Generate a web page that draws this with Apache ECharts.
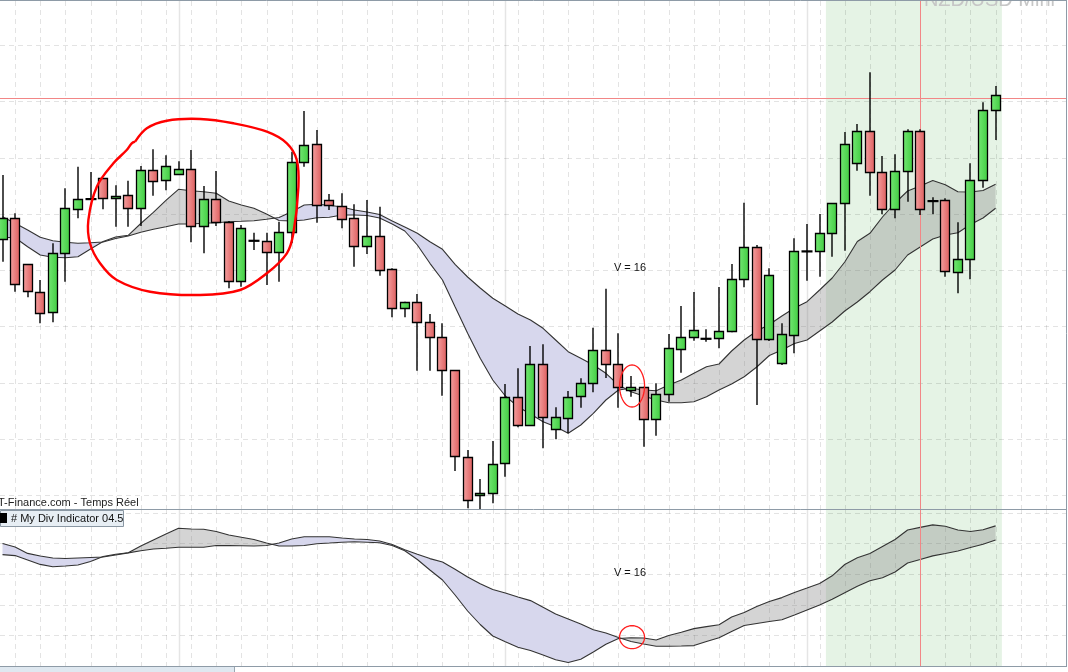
<!DOCTYPE html>
<html><head><meta charset="utf-8">
<script src="https://cdn.jsdelivr.net/npm/echarts@6/dist/echarts.min.js"></script>
<style>html,body{margin:0;padding:0;background:#fff;overflow:hidden}#c{width:1068px;height:672px}</style>
</head><body><div id="c"></div>
<script>
// ---- candle data (price points) ----
const opens = [270,290.7,244.7,217.3,196.7,255.7,299.7,310,330.7,310.7,
313.7,300.7,338.7,328.7,335,339.7,283,309.7,287,227.7,
268.3,268,256.7,276.7,346.7,364.7,308.7,303.3,290.7,262.7,
272.7,239.7,201.7,207.3,186.7,171.7,138.7,52.3,13.3,15.7,
45.7,111.7,83.7,144.7,79.7,91.7,113,125.7,158.7,144.7,
119.7,122.3,89.7,114.7,159.7,171.7,170.3,170.7,177.7,230,
261.7,169.7,145.7,173.7,257.7,257.7,275.7,305.7,345.7,377.7,
336.7,299.7,337.7,377.7,308,308.7,236.7,249.7,328.7,398.7];
const closes = [290.7,225,217.3,196.7,255.7,300.7,309.7,310,310.7,312.7,
300.7,338.7,328,342.7,339.7,283,309.7,287,227.7,281,
268.3,256.7,276.7,346.7,363.7,304,304,290.7,262.7,272.7,
238.7,200.7,207.3,187.7,171.7,138.7,52.3,9.7,15.7,44.7,
111.7,83.7,144.7,91.7,91.7,112.3,125.7,158.7,144.7,121.3,
122.3,90.7,114.7,160.7,171.7,178.7,170.3,177.7,230,261.7,
169.7,233.7,174.7,257.7,257.7,275.7,305.7,364.7,377.7,336.7,
299.7,337.7,377.7,299.7,308,237.7,249.7,328.7,398.7,413.7];
const lows = [247.3,217.3,211.7,185.7,186.7,227.3,290.7,309,299.7,282.3,
282.3,283,313.3,318.7,335,266.7,255.7,283,220.7,222.3,
259,224,227.3,265.7,342.3,286.3,299,280.7,242.3,255,
233.3,191.7,191.7,138.3,138.3,113.3,38,0.7,0,5.7,
32.3,81.7,83.7,60.7,69.7,75.7,101.3,116.7,131,101.3,
112.3,62.3,73.3,107.3,136.3,168.3,167.3,160.7,176.7,221.7,
104,168,144,155.7,228.3,232.3,252.3,258.3,338.3,313.3,
294.7,290.7,307.3,294,294.7,232.3,215.7,229.7,321.3,369];
const highs = [334,295.7,245,229,265.7,320.7,342.3,337,331,323.7,
328.3,343,359.7,353.7,347.7,359,323,338,288,284,
276.3,276.3,287.3,357.3,398,379,315,315.7,304.7,309,
302.3,240.7,207.3,215,195,185.7,138.7,59,30,68,
125,140.7,163,164.7,101.7,118,130.7,181.3,220.3,175.7,
133,122.3,125.7,175,203,217,179.7,222,245,306.3,
264,240.7,185.7,270.7,285,295,305.7,377,385,436.7,
353,354.7,379.7,379.7,311.7,310.7,286.7,345.7,406.7,423];

// ---- moving-average band (upper pane) ----
const fastMA = [271.7,271.3,262.3,254,251.7,251.3,252.3,260,267.5,272,
273.7,285.5,296.7,308.7,319.7,318.3,317.3,315.7,308,304,
300.7,295,288.5,288,289,291.3,291.7,294,294,293.5,
291,285,278,264,245.7,229,202.3,175.7,150.7,129,
113,102.3,95,87.3,82.3,75.7,84,95.7,109,119,
120.7,119,118.3,124,129,135.7,142.3,145,158,169,
178,184.5,193,201,207.3,219,231,247,267.5,275.7,
292,306,318,323,328.5,324.3,317.3,317,318.5,324.7];
const slowMA = [292.3,285.7,279,271.7,268.3,266.7,265.7,266.3,267,270.5,
273,276.7,279.7,282.3,285,285,285.7,286.3,287.3,287.7,
288.3,289.7,291.5,297.3,304,304.7,303.7,302,299,297,
294.5,288,282,275.7,267.3,259.7,244.7,232,221,210.7,
203,195,189,180.7,169,157.3,150.7,144,135.7,124,
117.3,113,109,106.3,106.3,107.3,112.3,119,125,132.3,
142,153.5,159,165.5,169,178,187,198,207,217.3,
229,239,254,262,270,274,276.3,284.5,291,300.7];

// ---- "My Div Indicator" (lower pane) ----
const divFast = [111.4,110.4,106,101.6,99.3,100,101,104.5,109.5,111.7,
113.3,120,126,132,137.7,137,136.7,134.5,131,128.7,
126.5,123,120,120,120.5,122.3,123,123.8,124.2,123.8,
123.3,120.5,115.3,106.5,96,86,71,55,41.5,30,
24.2,18.8,15.5,11,6.3,3.5,6.7,14,21.7,27.5,
28.2,28,26,30.5,33.8,37.4,39.4,41.2,49,53.5,
59.5,64.5,68.4,73.6,78,82.5,90.2,101.5,108.2,112.6,
119.5,126.5,136,138.6,141.1,139.7,136,134.5,136.2,140.1];
const divSlow = [122.5,119,112.6,110,108,107.5,108,108.5,109,111,
113.1,115.3,117,117.8,118.7,118.7,118.7,120.5,120.4,120.2,
120,120.5,123,127,129.3,129.3,129.3,128,127,126.5,
125,121.5,116.2,111.7,107.4,104,96.7,89,82.2,76.5,
73,69,65.4,58.8,52,47,42,36.3,33,28.5,
24.5,22,19.7,19.8,20,20.4,24.5,28.2,34.5,40.5,
42.5,44.5,46.3,51,56,61,66.7,73.3,79.8,85.2,
88.3,94,103,106.5,110.1,112.5,115,118.5,121.7,125.9];

// ---- ticks / reference marks ----
const priceTicks = [14,70.5,126.5,183,239,295.5,351.5,408,464.3];
const divTicks = [30.7,61.4,92.1,122.8,153.5];
const gridCols = [1,3,5,7,9,11,13,15,17,19,21,23,25,27,29,31,33,35,37,39,41,43,45,47,49,51,53,55,57,59,61,63,65,67,69,71,73,75,77,79,81,83];
const sessionCols = [14,40,64];
const highlightRange = [65.5,79.5];
const lastPrice = 411;
const cursorIndex = 73;
const crossIndex = 50.08;
const crossPrice = 123;
const crossDiv = 28.8;
const bigLoop = [[10.55,367.3],[11.48,380.7],[13.07,388.3],[15.72,390],[18.37,385.7],[21.03,377.3],[22.62,365.7],[23.41,349],[23.54,322.3],[23.14,275.7],[22.62,255.7],[21.03,235.7],[18.9,219],[15.72,214],[11.74,217.3],[9.09,229],[7.76,245.7],[6.96,265.7],[6.83,289],[7.5,322.3],[8.82,345.7],[9.88,359],[10.28,365.7],[10.55,367.3]];

const FONT = '"Liberation Sans", Arial, sans-serif';
const candleData = opens.map((o,i)=>[i,o,closes[i],lows[i],highs[i]]);
const pairs = arr => arr.map((v,i)=>[i,v]);

function renderBand(params, api){
  const cs = params.coordSys;
  const x0 = api.coord([api.value(0),0])[0], x1 = api.coord([api.value(1),0])[0];
  return {type:'rect', shape:{x:x0,y:cs.y,width:x1-x0,height:cs.height}, style:{fill:'#e5f3e5'}};
}
function renderHLine(params, api){
  const cs = params.coordSys;
  const y = Math.round(api.coord([0,api.value(0)])[1])+0.5;
  return {type:'line', shape:{x1:cs.x,y1:y,x2:cs.x+cs.width,y2:y}, style:{stroke:'rgba(0,0,0,0.11)',lineWidth:1,lineDash:[5,4]}};
}
function makeVLine(solid){
  return function(params, api){
    const cs = params.coordSys;
    const x = Math.round(api.coord([api.value(0),0])[0])+0.5;
    return {type:'line', shape:{x1:x,y1:cs.y,x2:x,y2:cs.y+cs.height},
      style: solid ? {stroke:'rgba(0,0,0,0.10)',lineWidth:1.5} : {stroke:'rgba(0,0,0,0.11)',lineWidth:1,lineDash:[5,4]}};
  };
}
function makeFill(fa, sa){
  return function(params, api){
    const polys = [];
    let A=[[0,fa[0]]], B=[[0,sa[0]]], sign = fa[0]-sa[0] >= 0;
    for (let i=0;i<fa.length-1;i++){
      const d0 = fa[i]-sa[i], d1 = fa[i+1]-sa[i+1];
      const s1 = d1 >= 0;
      if (s1 !== sign && d0 !== d1){
        const t = d0/(d0-d1);
        const xc = i+t, yc = fa[i]+t*(fa[i+1]-fa[i]);
        A.push([xc,yc]); B.push([xc,yc]);
        polys.push({pts:A.concat(B.slice().reverse()), up:sign});
        A=[[xc,yc]]; B=[[xc,yc]]; sign = s1;
      }
      A.push([i+1,fa[i+1]]); B.push([i+1,sa[i+1]]);
    }
    polys.push({pts:A.concat(B.slice().reverse()), up:sign});
    return {type:'group', children: polys.map(p=>({type:'polygon',
      shape:{points:p.pts.map(q=>api.coord(q))},
      style:{fill: p.up ? 'rgba(128,128,128,0.34)' : '#d7d7ed', stroke:'none'}}))};
  };
}
function renderCandle(params, api){
  const i=api.value(0), o=api.value(1), c=api.value(2), l=api.value(3), h=api.value(4);
  const pO=api.coord([i,o]), pC=api.coord([i,c]), pL=api.coord([i,l]), pH=api.coord([i,h]);
  const w = Math.round(api.size([1,0])[0]*0.72);
  const xc = Math.round(pO[0]);
  const kids = [{type:'line', shape:{x1:xc,y1:pH[1],x2:xc,y2:pL[1]}, style:{stroke:'#000',lineWidth:1.4}}];
  const top = Math.min(pO[1],pC[1]), bot = Math.max(pO[1],pC[1]);
  if (bot-top < 0.6){
    kids.push({type:'rect', shape:{x:xc-w/2-1,y:top-1,width:w+2,height:2.2}, style:{fill:'#000'}});
  } else {
    const up = c > o;
    const grad = {type:'linear',x:0,y:0,x2:1,y2:0,colorStops:[
      {offset:0,color: up?'#74e874':'#f4a2a2'},{offset:1,color: up?'#40cc40':'#dd5c5c'}]};
    kids.push({type:'rect', shape:{x:xc-w/2,y:Math.round(top)+0.5,width:w,height:Math.max(1,Math.round(bot-top))},
      style:{fill:grad, stroke:'#000', lineWidth:1.3}});
  }
  return {type:'group', children:kids};
}
function renderPriceLine(params, api){
  const cs = params.coordSys;
  const y = Math.round(api.coord([0,api.value(0)])[1])+0.5;
  return {type:'line', shape:{x1:cs.x,y1:y,x2:cs.x+cs.width,y2:y}, style:{stroke:'#f28686',lineWidth:1}};
}
function renderCursor(params, api){
  const cs = params.coordSys;
  const x = Math.round(api.coord([api.value(0),0])[0])+0.5;
  return {type:'line', shape:{x1:x,y1:cs.y,x2:x,y2:cs.y+cs.height}, style:{stroke:'#f28686',lineWidth:1}};
}
function ellipsePts(c, rx, ry){
  const pts=[];
  for (let k=0;k<=60;k++){ const a=k/60*Math.PI*2; pts.push([c[0]+rx*Math.cos(a), c[1]+ry*Math.sin(a)]); }
  return pts;
}
function renderAnnoUpper(params, api){
  const c = api.coord([crossIndex, crossPrice]);
  return {type:'group', children:[
    {type:'polyline', shape:{points:bigLoop.map(p=>api.coord(p)), smooth:0.35}, style:{stroke:'#ff0000',lineWidth:2.4,fill:'none'}},
    {type:'polyline', shape:{points:ellipsePts(c,12.5,21)}, style:{stroke:'#ff2020',lineWidth:1.3,fill:'none'}}
  ]};
}
function renderAnnoLower(params, api){
  const c = api.coord([crossIndex, crossDiv]);
  return {type:'polyline', shape:{points:ellipsePts(c,12.5,11.5)}, style:{stroke:'#ff2020',lineWidth:1.3,fill:'none'}};
}

const xAx = i => ({type:'value', gridIndex:i, min:-0.2, max:84.6, show:false});
const base = {silent:true, animation:false};
const series = [];
[0,1].forEach(g=>{
  series.push(Object.assign({type:'custom', xAxisIndex:g, yAxisIndex:g, z:1, renderItem:renderBand, data:[highlightRange]}, base));
  series.push(Object.assign({type:'custom', xAxisIndex:g, yAxisIndex:g, z:2, renderItem:renderHLine, data:(g===0?priceTicks:divTicks).map(v=>[v])}, base));
  series.push(Object.assign({type:'custom', xAxisIndex:g, yAxisIndex:g, z:2, renderItem:makeVLine(false), data:gridCols.map(v=>[v])}, base));
  series.push(Object.assign({type:'custom', xAxisIndex:g, yAxisIndex:g, z:2, renderItem:makeVLine(true), data:sessionCols.map(v=>[v])}, base));
  const fa = g===0?fastMA:divFast, sa = g===0?slowMA:divSlow;
  series.push(Object.assign({type:'custom', xAxisIndex:g, yAxisIndex:g, z:3, renderItem:makeFill(fa,sa), data:[[0,0]]}, base));
  [fa,sa].forEach(arr=>series.push(Object.assign({type:'line', xAxisIndex:g, yAxisIndex:g, z:4, data:pairs(arr), showSymbol:false, symbol:'none',
    lineStyle:{color:'#333',width:1.1}}, base)));
  series.push(Object.assign({type:'custom', xAxisIndex:g, yAxisIndex:g, z:5, renderItem:renderCursor, data:[[cursorIndex,0]]}, base));
});
series.push(Object.assign({type:'custom', xAxisIndex:0, yAxisIndex:0, z:5, renderItem:renderPriceLine, data:[[lastPrice]]}, base));
series.push(Object.assign({type:'custom', xAxisIndex:0, yAxisIndex:0, z:6, renderItem:renderCandle, data:candleData, encode:{x:0,y:[1,2,3,4]}}, base));
series.push(Object.assign({type:'custom', xAxisIndex:0, yAxisIndex:0, z:7, renderItem:renderAnnoUpper, data:[[0,0]]}, base));
series.push(Object.assign({type:'custom', xAxisIndex:1, yAxisIndex:1, z:7, renderItem:renderAnnoLower, data:[[0,0]]}, base));

const border = '#8e9ba7';
const option = {
  backgroundColor:'#ffffff',
  animation:false,
  grid:[{left:0,top:1,width:1066,height:508,outerBoundsMode:'none'},{left:0,top:509,width:1066,height:157,outerBoundsMode:'none'}],
  xAxis:[xAx(0), xAx(1)],
  yAxis:[{type:'value',gridIndex:0,min:0,max:508,show:false},{type:'value',gridIndex:1,min:0,max:157,show:false}],
  series,
  graphic:[
    {type:'text', z:50, x:1055, y:10, style:{text:'NZD/USD Mini', font:'20px '+FONT, fill:'#c6c6c6', align:'right', verticalAlign:'bottom', textAlign:'right', textVerticalAlign:'bottom'}},
    {type:'text', z:50, x:630, y:268, style:{text:'V = 16', font:'11px '+FONT, fill:'#111', align:'center', verticalAlign:'middle', textAlign:'center', textVerticalAlign:'middle'}},
    {type:'text', z:50, x:630, y:573, style:{text:'V = 16', font:'11px '+FONT, fill:'#111', align:'center', verticalAlign:'middle', textAlign:'center', textVerticalAlign:'middle'}},
    {type:'text', z:50, x:-2, y:503, style:{text:'T-Finance.com - Temps Réel', font:'11px '+FONT, fill:'#222', align:'left', verticalAlign:'middle', textAlign:'left', textVerticalAlign:'middle'}},
    {type:'line', z:60, shape:{x1:0,y1:0.5,x2:1067,y2:0.5}, style:{stroke:border,lineWidth:1}},
    {type:'line', z:60, shape:{x1:0,y1:509.5,x2:1067,y2:509.5}, style:{stroke:border,lineWidth:1}},
    {type:'line', z:60, shape:{x1:0,y1:666.5,x2:1067,y2:666.5}, style:{stroke:border,lineWidth:1}},
    {type:'line', z:60, shape:{x1:1066.5,y1:0,x2:1066.5,y2:667}, style:{stroke:border,lineWidth:1}},
    {type:'rect', z:60, shape:{x:0.5,y:510.5,width:123,height:16}, style:{fill:'#e7eef4',stroke:'#8a97a3',lineWidth:1}},
    {type:'rect', z:61, shape:{x:0,y:513,width:7,height:10}, style:{fill:'#000'}},
    {type:'text', z:61, x:11, y:518.5, style:{text:'# My Div Indicator 04.5', font:'11px '+FONT, fill:'#111', align:'left', verticalAlign:'middle', textAlign:'left', textVerticalAlign:'middle'}},
    {type:'rect', z:60, shape:{x:0,y:667,width:234,height:6}, style:{fill:'#dfe8f0'}},
    {type:'line', z:60, shape:{x1:234.5,y1:667,x2:234.5,y2:672}, style:{stroke:'#9aa6b1',lineWidth:1}}
  ]
};
const chart = echarts.init(document.getElementById('c'), null, {renderer:'canvas'});
chart.setOption(option);
</script>
</body></html>
